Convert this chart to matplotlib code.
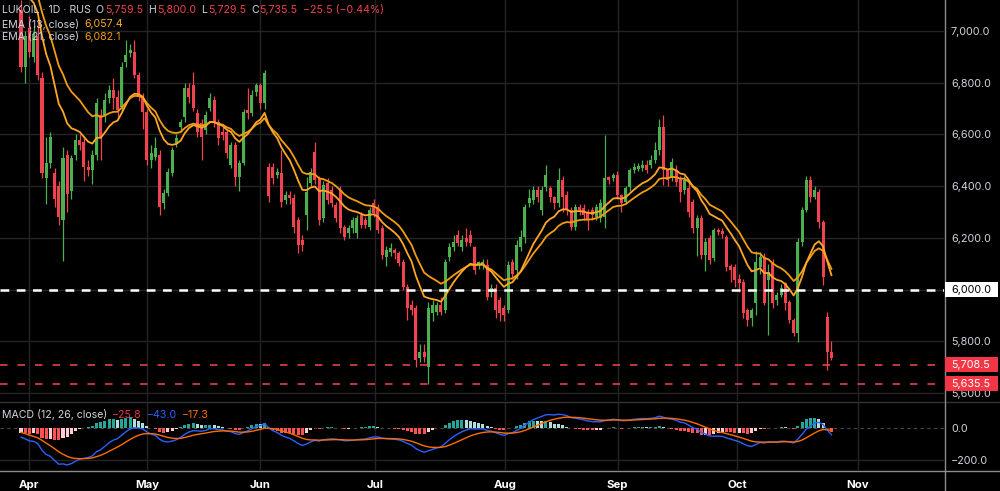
import numpy as np
import matplotlib
matplotlib.use("Agg")
import matplotlib.pyplot as plt
from matplotlib.patches import Rectangle
from matplotlib.lines import Line2D
from matplotlib.ticker import FuncFormatter

# LUKOIL daily candles, late Mar - 24 Oct
opens = [7080, 6860, 7010, 6900, 6980, 6820, 6430, 6490, 6450, 6400,
         6270, 6520, 6380, 6520, 6580, 6570, 6475, 6462, 6520, 6675,
         6675, 6740, 6770, 6745, 6706, 6880, 6915, 6920, 6830, 6745,
         6687, 6501, 6512, 6520, 6335, 6373, 6451, 6567, 6629, 6667,
         6780, 6790, 6683, 6644, 6617, 6702, 6733, 6648, 6610, 6609,
         6482, 6559, 6435, 6489, 6694, 6683, 6764, 6791, 6721, 6475,
         6474, 6443, 6451, 6346, 6366, 6354, 6269, 6190, 6288, 6412,
         6532, 6431, 6277, 6412, 6385, 6327, 6385, 6242, 6219, 6238,
         6219, 6288, 6269, 6242, 6335, 6319, 6238, 6126, 6145, 6153,
         6141, 6106, 6010, 5940, 5929, 5735, 5758, 5700, 5909, 5912,
         5940, 5921, 6126, 6165, 6211, 6165, 6199, 6211, 6165, 6095,
         6095, 6095, 5990, 6006, 5960, 5929, 5921, 6106, 6076, 6165,
         6203, 6335, 6346, 6385, 6308, 6397, 6393, 6358, 6335, 6424,
         6366, 6308, 6242, 6319, 6315, 6300, 6308, 6281, 6277, 6281,
         6435, 6431, 6443, 6366, 6339, 6397, 6462, 6466, 6470, 6482,
         6482, 6501, 6540, 6629, 6462, 6431, 6462, 6431, 6385, 6393,
         6339, 6238, 6277, 6134, 6199, 6122, 6230, 6226, 6203, 6091,
         6087, 6041, 6029, 5921, 5890, 5948, 6087, 6126, 6037, 6103,
         5960, 5979, 6025, 5952, 5882, 5832, 6184, 6308, 6424, 6358,
         6377, 6261, 5894, 5759.5]
highs = [7120, 7000, 7060, 7020, 7040, 6840, 6590, 6610, 6470, 6420,
         6550, 6540, 6520, 6600, 6600, 6590, 6500, 6540, 6740, 6700,
         6760, 6790, 6820, 6770, 6880, 6965, 6950, 6965, 6840, 6760,
         6700, 6560, 6590, 6540, 6390, 6470, 6550, 6600, 6660, 6800,
         6800, 6840, 6700, 6660, 6690, 6760, 6750, 6660, 6630, 6620,
         6570, 6570, 6500, 6700, 6780, 6770, 6800, 6800, 6850, 6490,
         6490, 6470, 6540, 6380, 6380, 6370, 6280, 6210, 6435, 6470,
         6570, 6440, 6420, 6430, 6400, 6340, 6400, 6250, 6250, 6280,
         6290, 6300, 6280, 6320, 6350, 6330, 6250, 6170, 6180, 6160,
         6150, 6120, 6020, 5960, 5940, 5790, 5790, 5950, 5960, 5950,
         5970, 6120, 6180, 6210, 6230, 6210, 6240, 6230, 6170, 6110,
         6120, 6120, 6020, 6020, 5970, 5940, 6110, 6120, 6190, 6230,
         6330, 6390, 6400, 6400, 6400, 6480, 6400, 6360, 6470, 6440,
         6380, 6320, 6330, 6330, 6330, 6310, 6320, 6330, 6350, 6598,
         6440, 6450, 6460, 6370, 6400, 6470, 6490, 6490, 6500, 6500,
         6520, 6570, 6660, 6675, 6470, 6510, 6480, 6440, 6440, 6420,
         6350, 6290, 6290, 6200, 6210, 6240, 6240, 6240, 6210, 6100,
         6100, 6060, 6040, 5930, 5930, 6150, 6145, 6140, 6100, 6120,
         5990, 6020, 6030, 5960, 5890, 6200, 6320, 6440, 6440, 6400,
         6390, 6270, 5913, 5800]
lows = [6840, 6800, 6900, 6880, 6810, 6430, 6330, 6470, 6320, 6250,
        6110, 6300, 6350, 6500, 6540, 6420, 6440, 6410, 6500, 6500,
        6650, 6720, 6700, 6660, 6690, 6860, 6900, 6820, 6730, 6620,
        6480, 6470, 6500, 6290, 6310, 6360, 6440, 6550, 6610, 6650,
        6720, 6690, 6590, 6500, 6600, 6690, 6630, 6560, 6580, 6510,
        6470, 6400, 6380, 6480, 6660, 6670, 6750, 6700, 6700, 6340,
        6410, 6430, 6320, 6330, 6330, 6220, 6141, 6150, 6230, 6400,
        6410, 6250, 6260, 6330, 6320, 6260, 6220, 6190, 6200, 6220,
        6200, 6240, 6240, 6230, 6280, 6220, 6120, 6090, 6130, 6120,
        6090, 6000, 5882, 5900, 5700, 5720, 5720, 5635.5, 5880, 5900,
        5900, 5910, 6110, 6150, 6170, 6150, 6170, 6170, 6060, 6080,
        6080, 5960, 5970, 5890, 5880, 5880, 5910, 6040, 6040, 6150,
        6180, 6320, 6330, 6340, 6290, 6380, 6340, 6310, 6320, 6300,
        6290, 6230, 6230, 6290, 6270, 6230, 6270, 6270, 6260, 6238,
        6410, 6420, 6350, 6300, 6330, 6380, 6450, 6460, 6460, 6450,
        6470, 6490, 6520, 6404, 6400, 6420, 6400, 6340, 6370, 6280,
        6220, 6130, 6120, 6070, 6100, 6110, 6210, 6200, 6070, 6030,
        6010, 5990, 5890, 5860, 5860, 5900, 6060, 5940, 5824, 5930,
        5940, 5970, 5920, 5870, 5820, 5797, 6170, 6300, 6340, 6350,
        6240, 6018, 5690, 5729.5]
closes = [6860, 6980, 6920, 6990, 6830, 6450, 6490, 6590, 6350, 6280,
          6510, 6370, 6510, 6580, 6560, 6475, 6462, 6520, 6720, 6590,
          6733, 6770, 6740, 6694, 6861, 6907, 6927, 6830, 6745, 6687,
          6501, 6528, 6547, 6319, 6373, 6455, 6540, 6586, 6648, 6780,
          6745, 6702, 6609, 6590, 6675, 6741, 6648, 6586, 6598, 6528,
          6559, 6435, 6489, 6687, 6683, 6752, 6791, 6721, 6838, 6360,
          6431, 6455, 6339, 6366, 6354, 6242, 6172, 6172, 6377, 6455,
          6424, 6269, 6404, 6346, 6335, 6277, 6238, 6203, 6238, 6269,
          6277, 6250, 6250, 6308, 6296, 6230, 6134, 6153, 6160, 6141,
          6103, 6010, 5929, 5921, 5727, 5758, 5739, 5929, 5940, 5940,
          5912, 6106, 6165, 6184, 6180, 6192, 6184, 6180, 6076, 6106,
          6106, 5971, 6006, 5921, 5909, 5901, 6095, 6060, 6172, 6203,
          6319, 6354, 6385, 6358, 6385, 6443, 6358, 6335, 6424, 6358,
          6308, 6242, 6319, 6308, 6288, 6269, 6288, 6319, 6335, 6431,
          6424, 6443, 6366, 6335, 6393, 6462, 6474, 6478, 6482, 6462,
          6501, 6540, 6629, 6462, 6424, 6493, 6416, 6377, 6424, 6300,
          6238, 6277, 6134, 6184, 6114, 6230, 6223, 6215, 6087, 6076,
          6037, 6025, 5909, 5882, 5921, 6106, 6126, 5948, 6068, 5948,
          5979, 6006, 5948, 5882, 5832, 6184, 6308, 6424, 6358, 6385,
          6261, 6049, 5760, 5735.5]

month_labels = ["Apr", "May", "Jun", "Jul", "Aug", "Sep", "Oct", "Nov"]
month_pos = [1.9, 30.0, 56.9, 84.3, 115.2, 142.1, 170.5, 199.3]

price_ticks = [5600, 5800, 6000, 6200, 6400, 6600, 6800, 7000]
levels_red = [5708.5, 5635.5]
level_white = 6000.0

# legend values as shown in the chart header
ema_values = ["6,057.4", "6,082.1"]
macd_values = ["\u221225.8", "\u221243.0", "\u221217.3"]

# EMA values before the first shown bar (estimated from the chart)
seed_ema13, seed_ema21 = 7250, 7270
seed_ema12, seed_ema26, seed_signal = 7225, 7255, -20


def ema(vals, n, seed):
    a = 2 / (n + 1)
    out, prev = [], seed
    for v in vals:
        prev = a * v + (1 - a) * prev
        out.append(prev)
    return np.array(out)


o = np.array(opens); h = np.array(highs); l = np.array(lows); c = np.array(closes)
x = np.arange(len(c))

ema13 = ema(c, 13, seed_ema13)
ema21 = ema(c, 21, seed_ema21)
macd = ema(c, 12, seed_ema12) - ema(c, 26, seed_ema26)
signal = ema(macd, 9, seed_signal)
hist = macd - signal

GREEN = "#4caf50"
RED = "#f0434f"
GRID = "#242424"
TXT = "#d1d4dc"
plt.rcParams["font.family"] = ["Inter", "DejaVu Sans"]

W, H = 1000, 491
fig = plt.figure(figsize=(W / 100, H / 100), dpi=100, facecolor="black")
ax = fig.add_axes([0, 1 - 401 / H, 944 / W, 401 / H], facecolor="black")
ax2 = fig.add_axes([0, 1 - 470 / H, 944 / W, 68 / H], facecolor="black")

for a_ in (ax, ax2):
    a_.set_xlim(-5.0, 219.8)
    for s in a_.spines.values():
        s.set_visible(False)
    a_.yaxis.tick_right()
    a_.tick_params(axis="y", length=0, pad=5, labelsize=7.8, labelcolor=TXT)
    a_.tick_params(axis="x", length=0)
    for m in month_pos:
        a_.axvline(m, color=GRID, lw=1, zorder=0)

# price pane
ax.set_ylim(5569, 7120)
ax.set_yticks(price_ticks)
ax.yaxis.set_major_formatter(FuncFormatter(lambda v, p: f"{v:,.1f}"))
ax.set_xticks([])
for t in price_ticks:
    ax.axhline(t, color=GRID, lw=1, zorder=0)

cols = np.where(c >= o, GREEN, RED)
ax.vlines(x, l, h, colors=cols, lw=0.9, zorder=2)
body_lo = np.minimum(o, c)
body_h = np.maximum(np.abs(c - o), 5)
ax.bar(x, body_h, bottom=body_lo, width=0.72, color=cols, zorder=3, linewidth=0)

ax.plot(x, ema21, color="#f39c12", lw=1.3, zorder=4)
ax.plot(x, ema13, color="#ffa726", lw=1.3, zorder=4)

ax.axhline(level_white, color="white", lw=1.8, ls=(0, (3.5, 3)), zorder=5)
for lv in levels_red:
    ax.axhline(lv, color="#e0404b", lw=1.2, ls=(0, (4.5, 6)), zorder=5)

# MACD pane
ax2.set_ylim(-262, 162)
ax2.set_yticks([-200, 0])
ax2.yaxis.set_major_formatter(FuncFormatter(lambda v, p: f"{v:.1f}".replace("-", "\u2212")))
ax2.axhline(-200, color=GRID, lw=1, zorder=0)
ax2.axhline(0, color="#4a4a4a", lw=0.8, ls=(0, (3, 3)), zorder=0)
prev = np.concatenate([[hist[0]], hist[:-1]])
hcols = np.where(hist >= 0,
                 np.where(hist > prev, "#26a69a", "#b2dfdb"),
                 np.where(hist < prev, "#ff5252", "#ffcdd2"))
ax2.bar(x, hist, width=0.72, color=hcols, zorder=2, linewidth=0)
ax2.plot(x, macd, color="#2962ff", lw=1.0, zorder=3)
ax2.plot(x, signal, color="#ff6d00", lw=1.0, zorder=3)
ax2.set_xticks(month_pos)
ax2.set_xticklabels(month_labels, color="white", fontsize=8.2, fontweight="bold")
ax2.tick_params(axis="x", pad=7)

# separators and right axis line
fig.add_artist(Line2D([0, 1], [1 - 401.5 / H] * 2, color="#333333", lw=1))
fig.add_artist(Line2D([0, 1], [1 - 470.5 / H] * 2, color="#8c8c8c", lw=1))
fig.add_artist(Line2D([944.5 / W] * 2, [0, 1], color="#8c8c8c", lw=1))

fig.canvas.draw()
renderer = fig.canvas.get_renderer()


def axis_label(val, fc, tc):
    yp = ax.transData.transform((0, val))[1]
    fig.add_artist(Rectangle((945 / W, (yp - 7.5) / H), 53 / W, 15 / H,
                             transform=fig.transFigure, facecolor=fc,
                             edgecolor="none", zorder=5))
    fig.text(951 / W, yp / H, f"{val:,.1f}", color=tc, fontsize=7.8,
             va="center", ha="left", zorder=6)


axis_label(level_white, "white", "black")
for lv in levels_red:
    axis_label(lv, "#f23645", "white")


def flow(py, parts, fs=7.6):
    # lay text pieces out left to right: (text, colour, gap after in px)
    px = 2
    for s, col, gap in parts:
        t = fig.text(px / W, 1 - py / H, s, color=col, fontsize=fs,
                     va="center", ha="left")
        px = t.get_window_extent(renderer).x1 + gap


flow(10, [("LUKOIL \u00b7 1D \u00b7 RUS", TXT, 5),
          ("O", TXT, 1), ("5,759.5", RED, 5),
          ("H", TXT, 1), ("5,800.0", RED, 5),
          ("L", TXT, 1), ("5,729.5", RED, 5),
          ("C", TXT, 1), ("5,735.5", RED, 5),
          ("\u221225.5 (\u22120.44%)", RED, 0)])
flow(24, [("EMA (13, close)", TXT, 5), (ema_values[0], "#ffa726", 0)])
flow(37, [("EMA (21, close)", TXT, 5), (ema_values[1], "#f39c12", 0)])
flow(415, [("MACD (12, 26, close)", TXT, 5),
           (macd_values[0], "#f23645", 5),
           (macd_values[1], "#2962ff", 5),
           (macd_values[2], "#ff6d00", 0)])

fig.savefig("out.png", dpi=100, facecolor="black")
